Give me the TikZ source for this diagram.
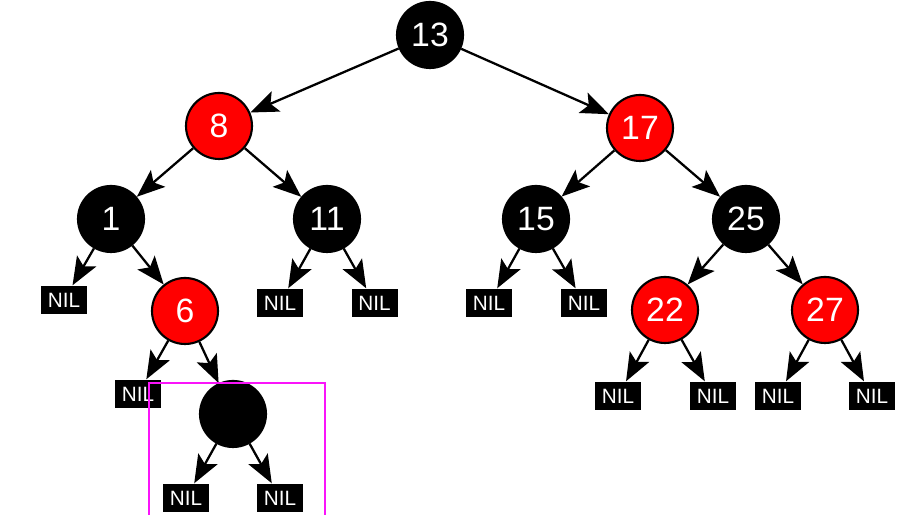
\documentclass[tikz,border=0pt]{standalone}
\usepackage{fontspec}
\setmainfont{Liberation Sans}
\usepackage{tikz}
\usetikzlibrary{arrows.meta}

\definecolor{hilite}{RGB}{250,20,250}

\tikzset{
  blacknode/.style={circle, draw=black, fill=black, line width=0.6pt, minimum size=0.66cm, inner sep=0pt, text=white, font=\fontsize{9.6}{9.6}\selectfont},
  rednode/.style={blacknode, fill=red},
  nilbox/.style={rectangle, fill=black, minimum width=0.46cm, minimum height=0.28cm, inner sep=0pt, text=white, font=\fontsize{5.9}{5.9}\selectfont},
  edge/.style={line width=0.65pt, -{Stealth[length=2.8mm, width=2.2mm, inset=0.6mm]}}
}

\begin{document}
\begin{tikzpicture}
    \useasboundingbox (0,0) rectangle (9.18,-5.15);

    % root
    \node[blacknode] (n13) at (4.30, -0.35) {13};

    % second level
    \node[rednode] (n8)  at (2.19, -1.26) {8};
    \node[rednode] (n17) at (6.40, -1.28) {17};

    % third level
    \node[blacknode] (n1)  at (1.11, -2.19) {1};
    \node[blacknode] (n11) at (3.27, -2.19) {11};
    \node[blacknode] (n15) at (5.36, -2.19) {15};
    \node[blacknode] (n25) at (7.46, -2.19) {25};

    % fourth level
    \node[nilbox]  (nil1)   at (0.64,  -3.00) {NIL};
    \node[rednode] (n6)     at (1.85,  -3.11) {6};
    \node[nilbox]  (nil11a) at (2.80,  -3.03) {NIL};
    \node[nilbox]  (nil11b) at (3.745, -3.03) {NIL};
    \node[nilbox]  (nil15a) at (4.89,  -3.03) {NIL};
    \node[nilbox]  (nil15b) at (5.84,  -3.03) {NIL};
    \node[rednode] (n22)    at (6.65,  -3.10) {22};
    \node[rednode] (n27)    at (8.25,  -3.10) {27};

    % fifth level
    \node[nilbox]    (nil6)   at (1.38, -3.94) {NIL};
    \node[blacknode] (nnew)   at (2.33, -4.14) {};
    \node[nilbox]    (nil22a) at (6.18, -3.96) {NIL};
    \node[nilbox]    (nil22b) at (7.13, -3.96) {NIL};
    \node[nilbox]    (nil27a) at (7.78, -3.96) {NIL};
    \node[nilbox]    (nil27b) at (8.72, -3.96) {NIL};

    % leaves of the new node
    \node[nilbox] (nilnewa) at (1.86, -4.98) {NIL};
    \node[nilbox] (nilnewb) at (2.80, -4.98) {NIL};

    % draw the edges
    \draw[edge] (n13) -- (n8);
    \draw[edge] (n13) -- (n17);
    \draw[edge] (n8) -- (n1);
    \draw[edge] (n8) -- (n11);
    \draw[edge] (n17) -- (n15);
    \draw[edge] (n17) -- (n25);
    \draw[edge] (n1) -- (nil1);
    \draw[edge] (n1) -- (n6);
    \draw[edge] (n11) -- (nil11a);
    \draw[edge] (n11) -- (nil11b);
    \draw[edge] (n15) -- (nil15a);
    \draw[edge] (n15) -- (nil15b);
    \draw[edge] (n25) -- (n22);
    \draw[edge] (n25) -- (n27);
    \draw[edge] (n6) -- (nil6);
    \draw[edge] (n6) -- (nnew);
    \draw[edge] (n22) -- (nil22a);
    \draw[edge] (n22) -- (nil22b);
    \draw[edge] (n27) -- (nil27a);
    \draw[edge] (n27) -- (nil27b);
    \draw[edge] (nnew) -- (nilnewa);
    \draw[edge] (nnew) -- (nilnewb);

    % highlight box
    \draw[hilite, line width=0.7pt] (1.49, -5.30) rectangle (3.25, -3.83);

\end{tikzpicture}
\end{document}
